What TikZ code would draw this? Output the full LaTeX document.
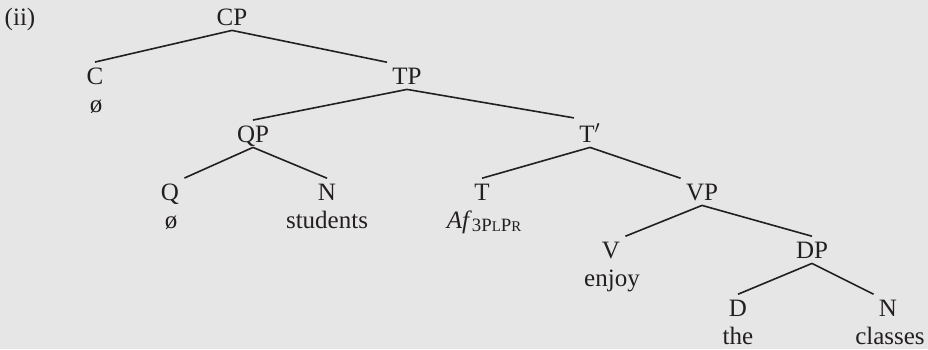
\documentclass[tikz,border=0pt]{standalone}
\usepackage{fontspec}
\setmainfont{Liberation Serif}
\definecolor{bggray}{RGB}{230,230,230}
\definecolor{inkgray}{RGB}{35,31,32}
% agreement subscript in small capitals
\newcommand{\agrsub}{\raisebox{-1.5pt}{\fontsize{9.4}{10}\selectfont 3P{\fontsize{7.4}{8}\selectfont L}P{\fontsize{7.4}{8}\selectfont R}}}

\begin{document}
\begin{tikzpicture}[x=0.5pt,y=-0.5pt,
    cat/.style={anchor=base,inner sep=2.5pt,text depth=0pt,text=inkgray,font=\fontsize{12.5}{15}\selectfont},
    lex/.style={anchor=base,inner sep=1pt,text=inkgray,font=\fontsize{12.5}{15}\selectfont},
    branch/.style={draw=inkgray,line width=0.8pt}]
    % Draw the background
    \fill[bggray] (0,0) rectangle (928,349);
    \useasboundingbox (0,0) rectangle (928,349);
    % example number
    \node[lex] (num) at (20,25) {(ii)};
    % categories
    \node[cat] (cp) at (232,25) {CP};
    \node[cat] (c) at (95,84) {C};
    \node[cat] (tp) at (407,84) {TP};
    \node[cat] (qp) at (253,142) {QP};
    \node[cat] (tbar) at (590,142) {T$'$};
    \node[cat] (q) at (170,200) {Q};
    \node[cat] (n1) at (327,200) {N};
    \node[cat] (t) at (482,200) {T};
    \node[cat] (vp) at (702,200) {VP};
    \node[cat] (v) at (611,258) {V};
    \node[cat] (dp) at (812,258) {DP};
    \node[cat] (d) at (738,316) {D};
    \node[cat] (n2) at (888,316) {N};
    % words
    \node[lex] (cnull) at (96,112) {ø};
    \node[lex] (qnull) at (171,228) {ø};
    \node[lex] (students) at (327,228) {students};
    \node[lex] (af) at (484,228) {\textit{Af}\agrsub};
    \node[lex] (enjoy) at (612,286) {enjoy};
    \node[lex] (the) at (738,344) {the};
    \node[lex] (classes) at (890,344) {classes};
    % branches
    \draw[branch] (cp.south) -- (c.north);
    \draw[branch] (cp.south) -- (tp.north west);
    \draw[branch] (tp.south) -- (qp.north);
    \draw[branch] (tp.south) -- (tbar.north west);
    \draw[branch] (qp.south) -- (q.north east);
    \draw[branch] (qp.south) -- (n1.north);
    \draw[branch] (tbar.south) -- (t.north);
    \draw[branch] (tbar.south) -- (vp.north west);
    \draw[branch] (vp.south) -- (v.north east);
    \draw[branch] (vp.south) -- (dp.north);
    \draw[branch] (dp.south) -- (d.north);
    \draw[branch] (dp.south) -- (n2.north west);
\end{tikzpicture}
\end{document}
